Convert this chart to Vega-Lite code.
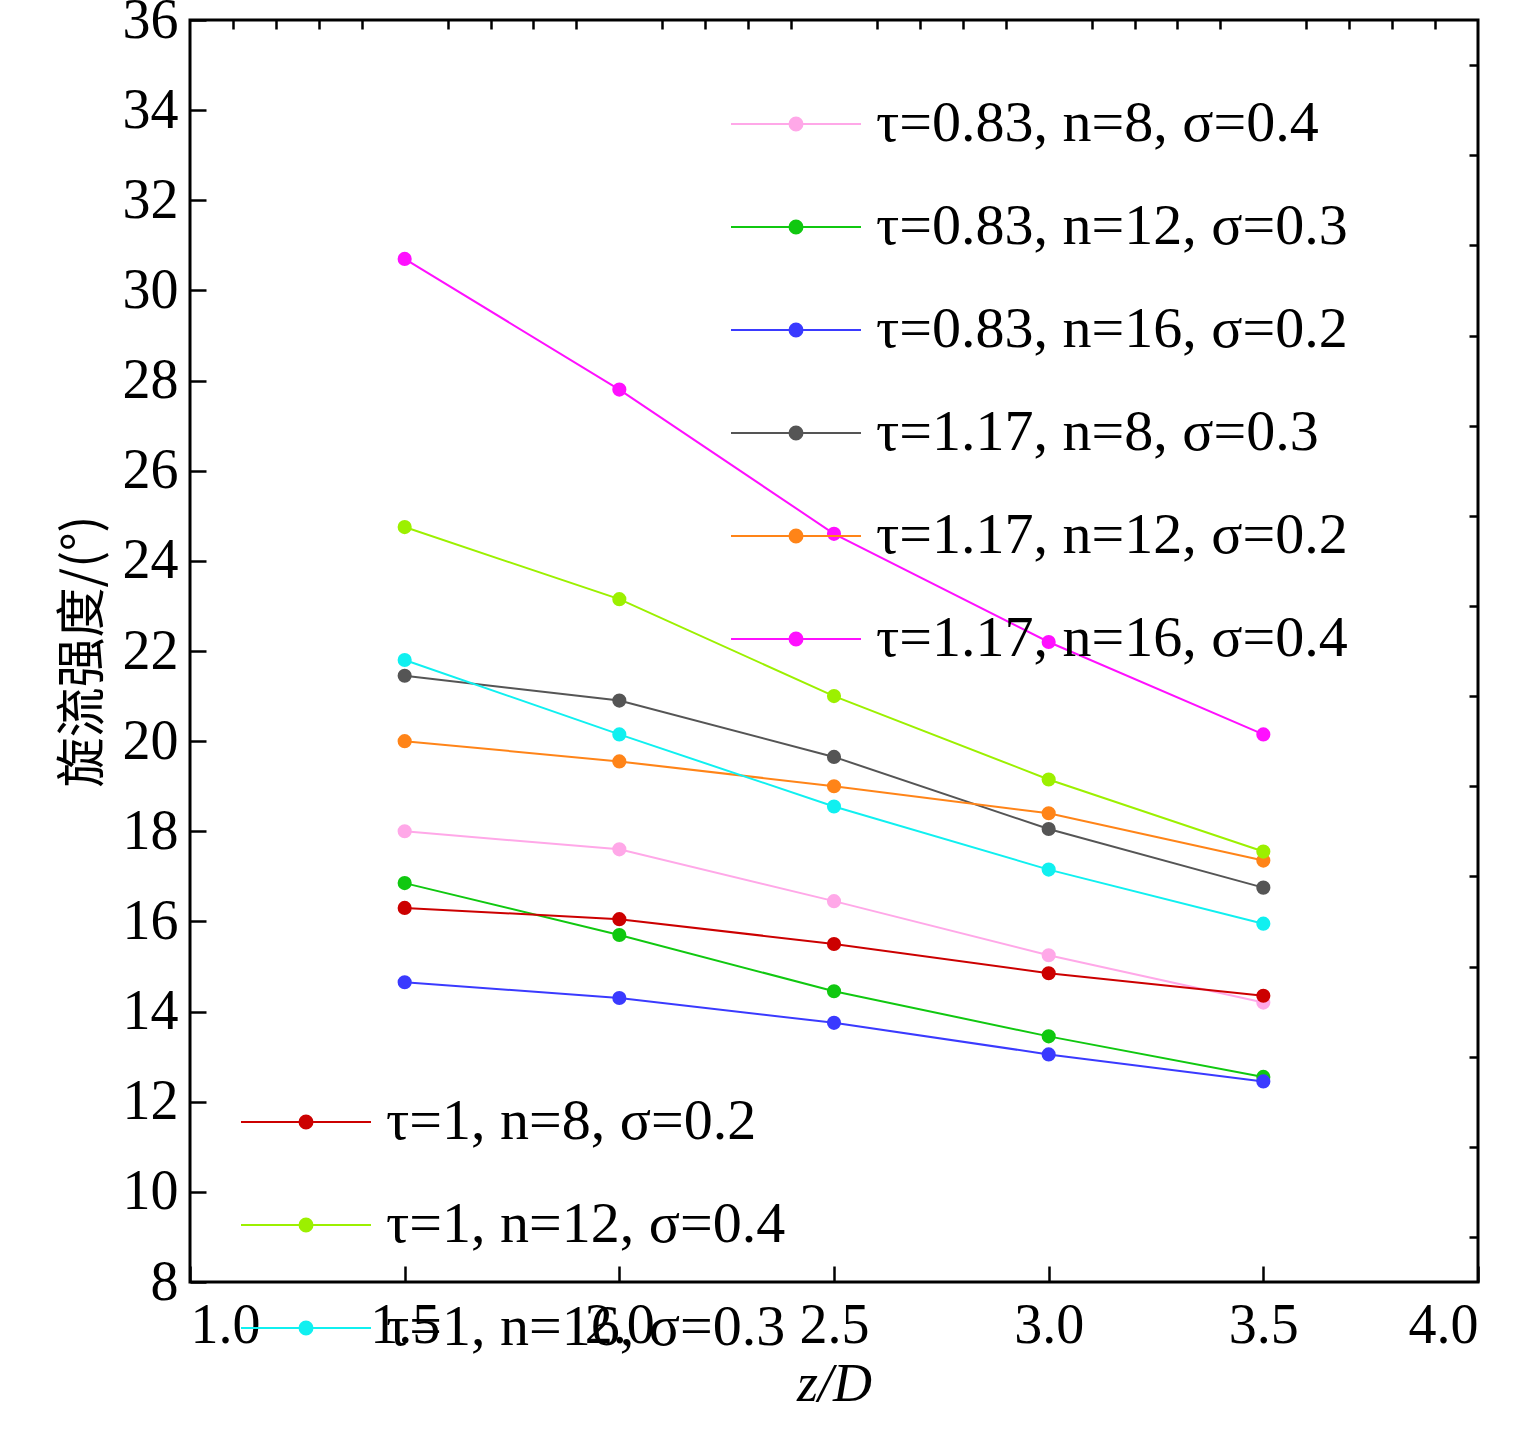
{
  "$schema": "https://vega.github.io/schema/vega-lite/v6.json",
  "autosize": "none",
  "width": 1288,
  "height": 1262,
  "padding": {"left": 190, "top": 20, "right": 37, "bottom": 157},
  "background": "white",
  "config": {
    "font": "Liberation Serif",
    "view": {"stroke": "black", "strokeWidth": 3},
    "axis": {"domain": false, "grid": false, "labelFont": "Liberation Serif", "labelFontSize": 56, "labelColor": "black", "tickColor": "black", "tickWidth": 2.5, "titleFont": "Liberation Serif", "titleFontSize": 54, "titleFontWeight": "normal", "titleColor": "black"},
    "legend": {"labelFont": "Liberation Serif", "labelFontSize": 58, "labelColor": "black", "labelLimit": 900, "labelOffset": 14, "symbolType": "M-1,0L1,0M-0.1,0a0.1,0.1 0 1,0 0.2,0a0.1,0.1 0 1,0 -0.2,0", "symbolSize": 16900, "symbolStrokeWidth": 2, "symbolFillColor": null, "rowPadding": 8, "padding": 0}
  },
  "data": {"values": [
    {"g": "A", "s": "τ=0.83, n=8, σ=0.4", "x": 1.5, "y": 18.0},
    {"g": "A", "s": "τ=0.83, n=8, σ=0.4", "x": 2.0, "y": 17.6},
    {"g": "A", "s": "τ=0.83, n=8, σ=0.4", "x": 2.5, "y": 16.45},
    {"g": "A", "s": "τ=0.83, n=8, σ=0.4", "x": 3.0, "y": 15.25},
    {"g": "A", "s": "τ=0.83, n=8, σ=0.4", "x": 3.5, "y": 14.2},
    {"g": "A", "s": "τ=0.83, n=12, σ=0.3", "x": 1.5, "y": 16.85},
    {"g": "A", "s": "τ=0.83, n=12, σ=0.3", "x": 2.0, "y": 15.7},
    {"g": "A", "s": "τ=0.83, n=12, σ=0.3", "x": 2.5, "y": 14.45},
    {"g": "A", "s": "τ=0.83, n=12, σ=0.3", "x": 3.0, "y": 13.45},
    {"g": "A", "s": "τ=0.83, n=12, σ=0.3", "x": 3.5, "y": 12.55},
    {"g": "A", "s": "τ=0.83, n=16, σ=0.2", "x": 1.5, "y": 14.65},
    {"g": "A", "s": "τ=0.83, n=16, σ=0.2", "x": 2.0, "y": 14.3},
    {"g": "A", "s": "τ=0.83, n=16, σ=0.2", "x": 2.5, "y": 13.75},
    {"g": "A", "s": "τ=0.83, n=16, σ=0.2", "x": 3.0, "y": 13.05},
    {"g": "A", "s": "τ=0.83, n=16, σ=0.2", "x": 3.5, "y": 12.45},
    {"g": "A", "s": "τ=1.17, n=8, σ=0.3", "x": 1.5, "y": 21.45},
    {"g": "A", "s": "τ=1.17, n=8, σ=0.3", "x": 2.0, "y": 20.9},
    {"g": "A", "s": "τ=1.17, n=8, σ=0.3", "x": 2.5, "y": 19.65},
    {"g": "A", "s": "τ=1.17, n=8, σ=0.3", "x": 3.0, "y": 18.05},
    {"g": "A", "s": "τ=1.17, n=8, σ=0.3", "x": 3.5, "y": 16.75},
    {"g": "A", "s": "τ=1.17, n=12, σ=0.2", "x": 1.5, "y": 20.0},
    {"g": "A", "s": "τ=1.17, n=12, σ=0.2", "x": 2.0, "y": 19.55},
    {"g": "A", "s": "τ=1.17, n=12, σ=0.2", "x": 2.5, "y": 19.0},
    {"g": "A", "s": "τ=1.17, n=12, σ=0.2", "x": 3.0, "y": 18.4},
    {"g": "A", "s": "τ=1.17, n=12, σ=0.2", "x": 3.5, "y": 17.35},
    {"g": "A", "s": "τ=1.17, n=16, σ=0.4", "x": 1.5, "y": 30.7},
    {"g": "A", "s": "τ=1.17, n=16, σ=0.4", "x": 2.0, "y": 27.8},
    {"g": "A", "s": "τ=1.17, n=16, σ=0.4", "x": 2.5, "y": 24.6},
    {"g": "A", "s": "τ=1.17, n=16, σ=0.4", "x": 3.0, "y": 22.2},
    {"g": "A", "s": "τ=1.17, n=16, σ=0.4", "x": 3.5, "y": 20.15},
    {"g": "B", "s": "τ=1, n=8, σ=0.2", "x": 1.5, "y": 16.3},
    {"g": "B", "s": "τ=1, n=8, σ=0.2", "x": 2.0, "y": 16.05},
    {"g": "B", "s": "τ=1, n=8, σ=0.2", "x": 2.5, "y": 15.5},
    {"g": "B", "s": "τ=1, n=8, σ=0.2", "x": 3.0, "y": 14.85},
    {"g": "B", "s": "τ=1, n=8, σ=0.2", "x": 3.5, "y": 14.35},
    {"g": "B", "s": "τ=1, n=12, σ=0.4", "x": 1.5, "y": 24.75},
    {"g": "B", "s": "τ=1, n=12, σ=0.4", "x": 2.0, "y": 23.15},
    {"g": "B", "s": "τ=1, n=12, σ=0.4", "x": 2.5, "y": 21.0},
    {"g": "B", "s": "τ=1, n=12, σ=0.4", "x": 3.0, "y": 19.15},
    {"g": "B", "s": "τ=1, n=12, σ=0.4", "x": 3.5, "y": 17.55},
    {"g": "B", "s": "τ=1, n=16, σ=0.3", "x": 1.5, "y": 21.8},
    {"g": "B", "s": "τ=1, n=16, σ=0.3", "x": 2.0, "y": 20.15},
    {"g": "B", "s": "τ=1, n=16, σ=0.3", "x": 2.5, "y": 18.55},
    {"g": "B", "s": "τ=1, n=16, σ=0.3", "x": 3.0, "y": 17.15},
    {"g": "B", "s": "τ=1, n=16, σ=0.3", "x": 3.5, "y": 15.95}
  ]},
  "layer": [
    {
      "transform": [{"filter": "datum.g === 'A'"}],
      "mark": {"type": "line", "strokeWidth": 2, "point": {"filled": true, "size": 200}},
      "encoding": {
        "x": {"field": "x", "type": "quantitative", "scale": {"domain": [1, 4], "nice": false},
          "axis": {"values": [1, 1.5, 2, 2.5, 3, 3.5, 4], "format": ".1f", "tickSize": -16, "labelPadding": 32, "title": "z/D", "titleFontStyle": "italic", "titlePadding": 4}},
        "y": {"field": "y", "type": "quantitative", "scale": {"domain": [8, 36], "nice": false},
          "axis": {"values": [8, 10, 12, 14, 16, 18, 20, 22, 24, 26, 28, 30, 32, 34, 36], "tickSize": -16, "labelPadding": 28, "title": "旋流强度/(°)", "titleFont": "Noto Sans CJK SC", "titleFontSize": 50, "titlePadding": 14}},
        "color": {"field": "s", "type": "nominal", "sort": null,
          "scale": {"domain": ["τ=0.83, n=8, σ=0.4", "τ=0.83, n=12, σ=0.3", "τ=0.83, n=16, σ=0.2", "τ=1.17, n=8, σ=0.3", "τ=1.17, n=12, σ=0.2", "τ=1.17, n=16, σ=0.4"],
            "range": ["#ffa8e8", "#10c810", "#3a3aff", "#555555", "#ff8418", "#ff10ff"]},
          "legend": {"title": null, "orient": "none", "legendX": 540, "legendY": 38}}
      }
    },
    {
      "transform": [{"filter": "datum.g === 'B'"}],
      "mark": {"type": "line", "strokeWidth": 2, "point": {"filled": true, "size": 200}},
      "encoding": {
        "x": {"field": "x", "type": "quantitative", "scale": {"domain": [1, 4], "nice": false},
          "axis": {"values": [1.1, 1.2, 1.3, 1.4, 1.6, 1.7, 1.8, 1.9, 2.1, 2.2, 2.3, 2.4, 2.6, 2.7, 2.8, 2.9, 3.1, 3.2, 3.3, 3.4, 3.6, 3.7, 3.8, 3.9], "labels": false, "tickSize": -9, "title": null}},
        "y": {"field": "y", "type": "quantitative", "scale": {"domain": [8, 36], "nice": false},
          "axis": {"values": [9, 11, 13, 15, 17, 19, 21, 23, 25, 27, 29, 31, 33, 35], "labels": false, "tickSize": -9, "title": null}},
        "color": {"field": "s", "type": "nominal", "sort": null,
          "scale": {"domain": ["τ=1, n=8, σ=0.2", "τ=1, n=12, σ=0.4", "τ=1, n=16, σ=0.3"],
            "range": ["#cc0000", "#9cf000", "#10f0f0"]},
          "legend": {"title": null, "orient": "none", "legendX": 50, "legendY": 1036}}
      }
    }
  ],
  "resolve": {"scale": {"color": "independent"}, "axis": {"x": "independent", "y": "independent"}}
}
